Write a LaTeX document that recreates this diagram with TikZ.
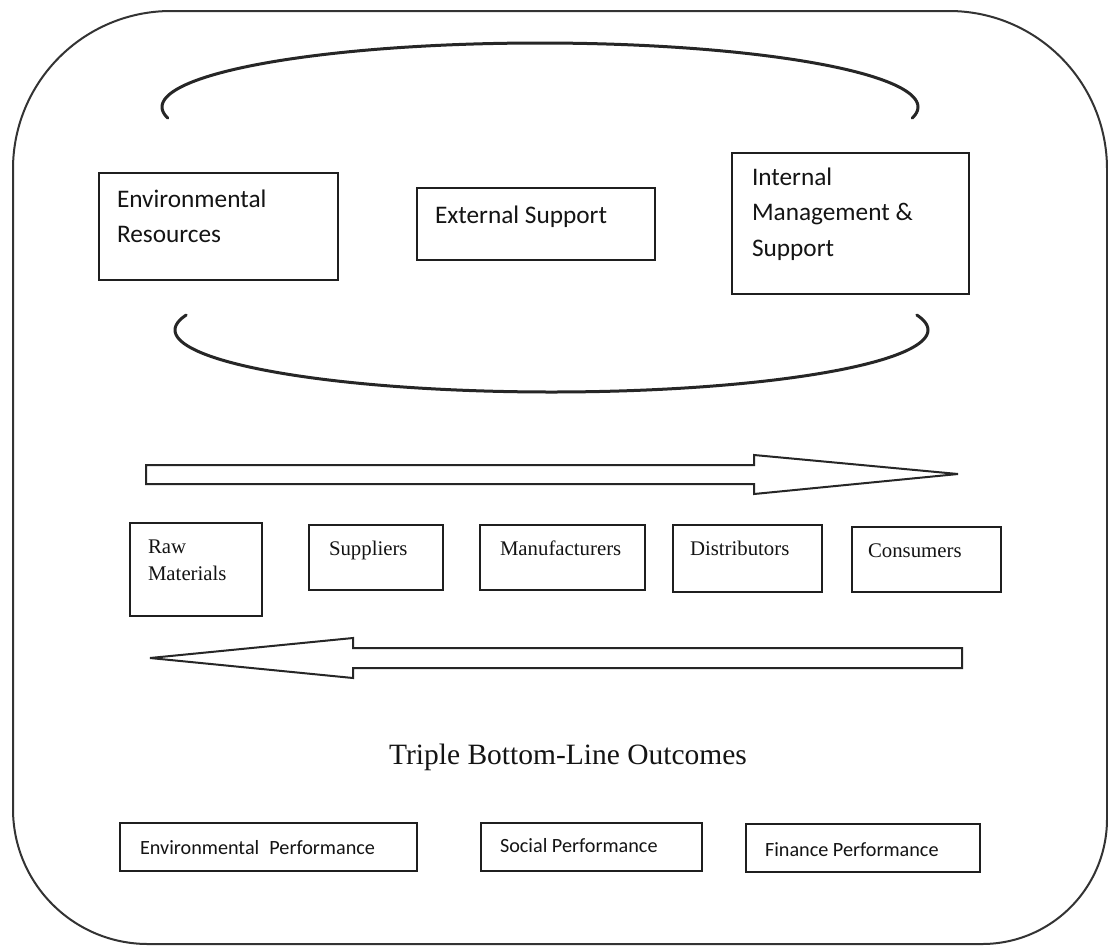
\documentclass[tikz,border=0pt]{standalone}
\usepackage{fontspec}
\setmainfont{Liberation Serif}
\newfontfamily\calib{Carlito}
\begin{document}
\begin{tikzpicture}[x=1pt,y=-1pt,
  box/.style={draw=black!88, line width=2.2pt, inner sep=0pt, outer sep=0pt},
  topfont/.style={font=\calib\fontsize{25.3}{35.5}\selectfont},
  midfont/.style={font=\fontsize{20.8}{27}\selectfont},
  lowfont/.style={font=\calib\fontsize{20.2}{24}\selectfont},
  lbl/.style={anchor=base west, inner sep=0pt, outer sep=0pt, align=left, text=black!92},
  bracket/.style={line width=3pt, black!85, line cap=round},
  bigarrow/.style={draw=black!85, line width=2pt, line join=miter, fill=white}]
\useasboundingbox (0,0) rectangle (1108,946);
\fill[white] (0,0) rectangle (1108,946);

% outer frame
\draw[line width=2pt, black!80] (13,480) [rounded corners=158pt] -- (13,11) -- (1107,11) [rounded corners=125pt] -- (1107,944) [rounded corners=135pt] -- (13,944) [sharp corners] -- (13,480);

% brackets
\draw[bracket] plot[domain=170:370, samples=120, smooth] ({540+378*cos(\x)}, {107+64*sin(\x)});
\draw[bracket] plot[domain=-14:194, samples=120, smooth] ({551.5+376.5*cos(\x)}, {330+62*sin(\x)});

% top row
\node[box, minimum width=239pt, minimum height=107pt] (er) at (218.5,226.5) {};
\node[box, minimum width=238pt, minimum height=72pt] (es) at (536,224) {};
\node[box, minimum width=237pt, minimum height=141pt] (im) at (850.5,223.5) {};
\node[lbl, topfont] (ert) at (117,207) {\begin{tabular}[t]{@{}l@{}}Environmental\\Resources\end{tabular}};
\node[lbl, topfont] (est) at (435,223) {External Support};
\node[lbl, topfont] (imt) at (752,185) {\begin{tabular}[t]{@{}l@{}}Internal\\Management \&\\Support\end{tabular}};

% arrows
\draw[bigarrow] (146,465) -- (754,465) -- (754,455) -- (958,474) -- (754,494) -- (754,484) -- (146,484) -- cycle;
\draw[bigarrow] (962,648) -- (353,648) -- (353,638) -- (150,658) -- (353,678) -- (353,668) -- (962,668) -- cycle;

% middle row
\node[box, minimum width=132pt, minimum height=93pt] (raw) at (196,569.5) {};
\node[box, minimum width=134pt, minimum height=65pt] (sup) at (376,557.5) {};
\node[box, minimum width=165pt, minimum height=65pt] (man) at (562.5,557.5) {};
\node[box, minimum width=149pt, minimum height=67pt] (dis) at (747.5,558.5) {};
\node[box, minimum width=149pt, minimum height=65pt] (con) at (926.5,559.5) {};
\node[lbl, midfont] (rawt) at (148,553) {\begin{tabular}[t]{@{}l@{}}Raw\\Materials\end{tabular}};
\node[lbl, midfont] (supt) at (329,555) {Suppliers};
\node[lbl, midfont] (mant) at (500,555) {Manufacturers};
\node[lbl, midfont] (dist) at (690,555) {Distributors};
\node[lbl, midfont] (cont) at (868,557) {Consumers};

% title
\node[anchor=base, inner sep=0pt, font=\fontsize{29.5}{34}\selectfont, text=black!92] (tbl) at (568,764) {Triple Bottom-Line Outcomes};

% bottom row
\node[box, minimum width=297pt, minimum height=48pt] (ep) at (268.5,847) {};
\node[box, minimum width=221pt, minimum height=48pt] (sp) at (591.5,847) {};
\node[box, minimum width=234pt, minimum height=48pt] (fp) at (863,848) {};
\node[lbl, lowfont] (ept) at (140,854) {Environmental\hspace{0.5em}Performance};
\node[lbl, lowfont] (spt) at (500,852) {Social Performance};
\node[lbl, lowfont] (fpt) at (765,856) {Finance Performance};
\end{tikzpicture}
\end{document}
